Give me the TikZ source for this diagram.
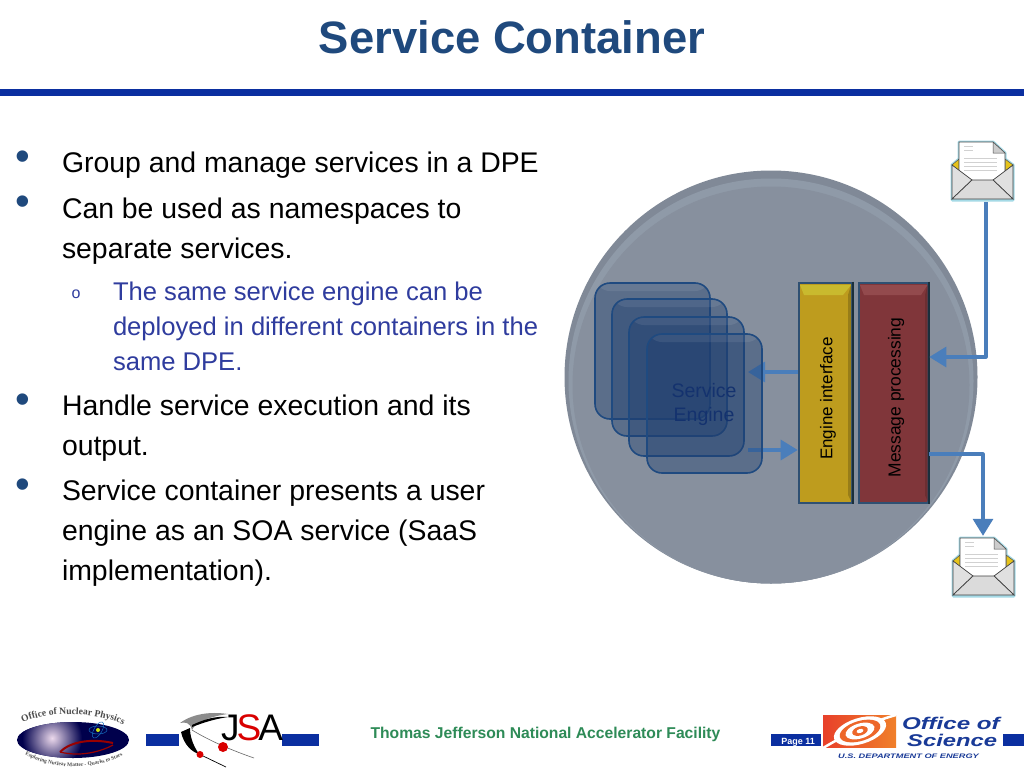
\documentclass[tikz,border=0pt]{standalone}
\usepackage{fontspec}
\usepackage{graphicx}
\setmainfont{Liberation Sans}
\newfontfamily\logoserif{Liberation Serif}
\usetikzlibrary{arrows.meta,decorations.text,shadings}
\definecolor{titleblue}{HTML}{1F497D}
\definecolor{rulebar}{HTML}{0B2FA0}
\definecolor{subblue}{HTML}{2F3C9E}
\definecolor{arrowblue}{HTML}{4A7EBB}
\definecolor{disc}{HTML}{87909E}
\definecolor{discrim}{HTML}{808997}
\definecolor{discglow}{HTML}{8F9AA8}
\definecolor{frameblue}{HTML}{2F5072}
\definecolor{frameright}{HTML}{1A2F3C}
\definecolor{goldbar}{HTML}{BE9C1E}
\definecolor{goldtop}{HTML}{C9BA2E}
\definecolor{redbar}{HTML}{80363A}
\definecolor{redtop}{HTML}{934A4D}
\definecolor{cardfill}{HTML}{1F3F70}
\definecolor{cardline}{HTML}{1F4A80}
\definecolor{engtext}{HTML}{14326E}
\definecolor{footgreen}{HTML}{2E8B57}
\definecolor{glowcyan}{HTML}{A5DAE6}
\definecolor{logored}{HTML}{E8402A}
\definecolor{logoorange}{HTML}{F0802A}
\tikzset{
  x=1pt,y=-1pt,
  sz/.style={font=\fontsize{#1}{#1}\selectfont},
  txt/.style={anchor=base west,inner sep=0pt,outer sep=0pt,sz=28.4},
  subtxt/.style={anchor=base west,inner sep=0pt,outer sep=0pt,sz=25.6,text=subblue},
  bul/.style={anchor=center,inner sep=0pt,sz=42,text=titleblue},
  card/.style={draw=cardline,line width=1.6pt,fill=cardfill,fill opacity=.42,rounded corners=15pt,
    path picture={\fill[white,opacity=.08] (path picture bounding box.north west) rectangle ([yshift=-8pt]path picture bounding box.north east);}},
  flow/.style={draw=arrowblue,line width=3.2pt,-{Triangle[length=17pt,width=20pt]}},
  barframe/.style={draw=frameblue,line width=2.6pt,inner sep=0pt,minimum height=220pt},
  pics/envmail/.style={code={
    \draw[glowcyan,line width=3pt,line join=round,fill=glowcyan]
      (7,2)--(41,2)--(53,13)--(53,19)--(61,25)--(61,60)--(0,60)--(0,25)--(7,19)--cycle;
    \fill[yellow!70!orange!90!black,draw=black!70,line width=.5pt] (0,25)--(7,19)--(7,32)--cycle;
    \fill[yellow!70!orange!90!black,draw=black!70,line width=.5pt] (61,25)--(53,19)--(53,32)--cycle;
    \fill[white,draw=black!70,line width=.6pt] (7,2)--(41,2)--(53,13)--(53,44)--(7,44)--cycle;
    \fill[black!20,draw=black!70,line width=.5pt] (41,2)--(53,13)--(41,13)--cycle;
    \foreach \yy/\xx in {6/20,10/20,18/44,22/44,26/44,30/44}{\draw[black!18,line width=.6pt] (12,\yy)--(\xx+1,\yy);}
    \fill[black!12,draw=black!75,line width=.7pt] (0,25)--(20,40)--(0,59)--cycle;
    \fill[black!12,draw=black!75,line width=.7pt] (61,25)--(41,40)--(61,59)--cycle;
    \fill[black!14,draw=black!75,line width=.7pt] (0,59)--(20,40)--(41,40)--(61,59)--cycle;
  }}
}
\begin{document}
\begin{tikzpicture}
\useasboundingbox (0,0) rectangle (1024,768);
\fill[white] (0,0) rectangle (1024,768);
% title
\node[anchor=base,inner sep=0pt,sz=45.4,text=titleblue] (title) at (512,53) {\textbf{Service Container}};
\fill[rulebar] (0,89) rectangle (1024,96);
% bullets
\node[bul] (b1) at (23,160.5) {•};
\node[bul] (b2) at (23,206) {•};
\node[bul] (b3) at (23,403.5) {•};
\node[bul] (b4) at (23,488.5) {•};
\node[txt] (t1) at (62,172.5) {Group and manage services in a DPE};
\node[txt] (t2) at (62,218.5) {Can be used as namespaces to};
\node[txt] (t3) at (62,258.5) {separate services.};
\node[anchor=center,inner sep=0pt,sz=16,text=subblue] (so) at (76,294) {o};
\node[subtxt] (s1) at (113,300) {The same service engine can be};
\node[subtxt] (s2) at (113,335) {deployed in different containers in the};
\node[subtxt] (s3) at (113,370) {same DPE.};
\node[txt] (t4) at (62,415.5) {Handle service execution and its};
\node[txt] (t5) at (62,455.5) {output.};
\node[txt] (t6) at (62,500.5) {Service container presents a user};
\node[txt] (t7) at (62,540.5) {engine as an SOA service (SaaS};
\node[txt] (t8) at (62,580.5) {implementation).};
% disc
\fill[discrim] (771,377) circle[radius=206.5];
\fill[discglow] (771,381) circle[radius=202.5];
\fill[disc] (771,385) circle[radius=198.5];
% bars
\node[barframe,fill=goldbar,minimum width=53pt] (ei) at (825.5,393) {};
\fill[goldtop] (800,285)--(851,285)--(843,295)--(804,295)--cycle;
\fill[goldbar!80!black] (851,285)--(848,295)--(848,495)--(851,501)--cycle;
\draw[frameright,line width=2pt] (ei.north east) -- (ei.south east);
\node[barframe,fill=redbar,minimum width=69pt] (mp) at (893.5,393) {};
\fill[redtop] (860,285)--(927.5,285)--(921,295)--(864,295)--cycle;
\fill[redbar!85!black] (927.5,285)--(925,295)--(925,495)--(927.5,501)--cycle;
\draw[frameright,line width=2pt] (mp.north east) -- (mp.south east);
\node[rotate=90,inner sep=0pt,sz=17] (eit) at (828,398.5) {Engine interface};
\node[rotate=90,inner sep=0pt,sz=17.4] (mpt) at (896,397.5) {Message processing};
% envelopes
\node[minimum width=64pt,minimum height=62pt,inner sep=0pt] (envin) at (983,171) {};
\node[minimum width=64pt,minimum height=62pt,inner sep=0pt] (envout) at (984,567) {};
\pic at (952,140) {envmail};
\pic at (953,536) {envmail};
% connectors under the cards
\coordinate (cardin) at (748,372);
\coordinate (cardout) at (748,450);
\coordinate (inbend) at (986,357);
\coordinate (outbend) at (983,454);
\path[flow] (ei.west |- cardin) -- (cardin);
\path[flow] (cardout) -- (ei.west |- cardout);
% service engine cards
\node[card,minimum width=115pt,minimum height=136pt] (c1) at (652.5,351) {};
\node[card,minimum width=115pt,minimum height=137pt] (c2) at (669.5,367.5) {};
\node[card,minimum width=115pt,minimum height=139pt] (c3) at (686.5,386.5) {};
\node[card,minimum width=115pt,minimum height=139pt] (c4) at (704.5,403.5) {};
\node[align=center,inner sep=0pt,text=engtext,font=\fontsize{19.5}{24}\selectfont] (set) at (704,404) {Service\\Engine};
\path[flow,line join=round] (envin.south -| inbend) -- (inbend) -- (mp.east |- inbend);
\path[flow,line join=round] (mp.east |- outbend) -- (outbend) -- (outbend |- envout.north);
% footer bars
\fill[rulebar] (146,734) rectangle (179,746);
\fill[rulebar] (282,734) rectangle (319,746);
\fill[rulebar] (771,734) rectangle (821,746);
\fill[rulebar] (1003,734) rectangle (1024,746);
\node[anchor=base,inner sep=0pt,sz=9,text=white] (page) at (798,744) {\textbf{Page 11}};
\node[anchor=base,inner sep=0pt,sz=15.66,text=footgreen] (foot) at (545.5,738) {\textbf{Thomas Jefferson National Accelerator Facility}};
% nuclear physics logo
\fill[blue!30!black] (73,740) circle[x radius=56,y radius=18];
\begin{scope}
\clip (73,740) circle[x radius=56,y radius=18];
\shade[inner color=white!85!violet,middle color=violet!40!blue!55!white,outer color=blue!30!black] (52,738) circle[radius=30];
\end{scope}
\draw[red!60!black,line width=2pt] (60,752) .. controls (70,742) and (90,738) .. (113,743);
\draw[red!60!black,line width=1.2pt] (60,752) .. controls (80,757) and (100,752) .. (113,745);
\fill[yellow!80!green] (98,730) circle[radius=2];
\draw[cyan!50!blue,line width=.5pt] (98,730) circle[x radius=9,y radius=4];
\draw[cyan!50!blue,line width=.5pt,rotate around={60:(98,730)}] (98,730) circle[x radius=9,y radius=4];
\path[decorate,decoration={text along path,text align=center,text={|\logoserif\fontsize{9.6}{10}\selectfont\bfseries\color{black!70}|Office of Nuclear Physics}}]
  (17,726) .. controls (40,710) and (100,710) .. (129,728);
\path[decorate,decoration={text along path,text align=center,text={|\logoserif\fontsize{5.4}{6}\selectfont\bfseries\color{black!70}|Exploring Nuclear Matter - Quarks to Stars}}]
  (18,750) .. controls (45,771) and (100,773) .. (130,751);
% JSA logo
\fill[black!45] (180,723) .. controls (195,712) and (215,712) .. (228,714) .. controls (212,716) and (195,722) .. (192,730) .. controls (190,722) and (185,722) .. (180,723) -- cycle;
\draw[black!60,line width=.6pt] (192,730) .. controls (205,738) and (225,748) .. (254,758);
\fill[black] (181,732) .. controls (184,745) and (192,752) .. (199,754) .. controls (192,744) and (190,735) .. (190,728) -- cycle;
\draw[black,line width=.7pt] (199,754) -- (226,767);
\fill[black] (192,725) .. controls (205,719) and (215,716) .. (228,717) .. controls (215,719) and (205,722) .. (192,727) -- cycle;
\fill[red!85!black] (223,747) circle[radius=5];
\fill[red!85!black] (200,754.5) circle[radius=3.5];
\node[anchor=base west,inner sep=0pt,sz=37,text=black] (jsa) at (221,740) {J\kern-3pt\textcolor{red!85!black}{S}\kern-3pt A};
% office of science logo
\shade[left color=logored,right color=logoorange] (823,715) rectangle (896,747);
\begin{scope}
\clip (823,715) rectangle (896,747);
\draw[white,line width=2.5pt] (823,748) .. controls (845,735) and (870,722) .. (896,715);
\fill[white,rotate around={17:(860,731)}] (860,731) circle[x radius=27,y radius=13];
\fill[logored!40!logoorange,rotate around={17:(860,731)}] (860,731) circle[x radius=21,y radius=10];
\fill[white,rotate around={17:(860,731)}] (860,731) circle[x radius=15,y radius=7.5];
\fill[logored!40!logoorange,rotate around={17:(860,731)}] (860,731) circle[x radius=8,y radius=4.5];
\fill[white,rotate around={17:(860,731)}] (860,731) circle[x radius=3.5,y radius=2];
\end{scope}
\node[anchor=base west,inner sep=0pt,sz=17,text=titleblue!80!blue] (os1) at (902,729.5) {\scalebox{1.42}[1]{\textbf{\textit{Office of}}}};
\node[anchor=base west,inner sep=0pt,sz=17,text=titleblue!80!blue] (os2) at (907,746) {\scalebox{1.4}[1]{\textbf{\textit{Science}}}};
\node[anchor=base west,inner sep=0pt,sz=6.5,text=titleblue!80!blue] (os3) at (838,758) {\scalebox{1.42}[1]{\textbf{\textit{U.S. DEPARTMENT OF ENERGY}}}};
\end{tikzpicture}
\end{document}
